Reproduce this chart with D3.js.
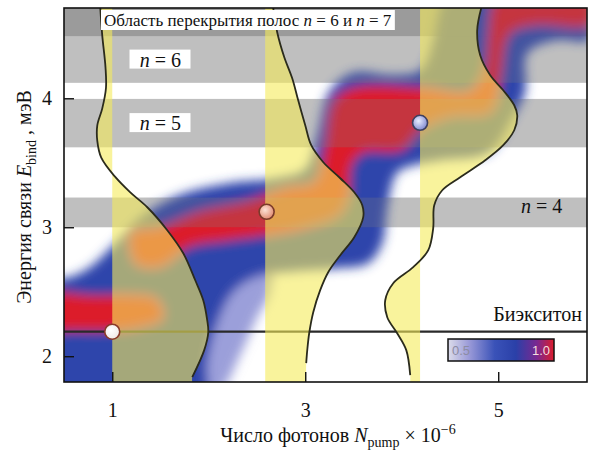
<!DOCTYPE html>
<html>
<head>
<meta charset="utf-8">
<script src="https://cdn.jsdelivr.net/npm/d3@7"></script>
<style>
  body { margin: 0; background: #fff; }
  #wrap { position: relative; width: 590px; height: 454px; }
  #wrap svg { position: absolute; left: 0; top: 0; }
</style>
</head>
<body>
<div id="wrap">
  <svg id="mapLayer" width="590" height="454"></svg>
  <svg id="chart" width="590" height="454"></svg>
</div>
<script>
// ---------- data ----------
const xDomain = [0.5, 5.92];          // N_pump × 10^-6
const yDomain = [1.8, 4.7];           // E_bind, meV
const xTicks = [1, 3, 5];
const yTicks = [2, 3, 4];

// Rydberg bands (energy ranges, meV); the last one is where n = 6 and n = 7 overlap
const bandName = ["4", "5", "6", "6+7"];
const bandLo = [3.0, 3.62, 4.12, 4.48];
const bandHi = [3.23, 3.995, 4.48, 4.9];

const biexcitonEnergy = 2.19;

// colour map of the normalised signal
const colorStops = [0.5, 0.6, 0.72, 0.82, 0.92, 1.0];
const colorRange = ["#dcdcea", "#9a9ad8", "#3a52b8", "#2a40a8", "#7a2890", "#dc1c2c"];

// signal map: outline of the broad (≈0.8) region, the weak tail (≈0.6) and the maxima (1.0)
const heatTail = [[1.9,1.65],[2.12,1.72],[2.32,2.0],[2.5,2.3],[2.64,2.5],[2.64,2.78],[2.0,2.75]];
const heatBlue = [
  [0.3,2.6],[0.5,2.6],[0.75,2.68],[1.0,2.85],[1.3,3.08],[1.7,3.25],[2.2,3.34],[2.7,3.38],
  [3.0,3.45],[3.12,3.7],[3.25,4.05],[3.5,4.2],[3.9,4.18],[4.2,4.22],[4.33,4.45],[4.4,4.7],[4.45,4.76],
  [5.2,4.76],[5.94,4.76],[5.94,4.6],[5.94,4.45],[5.6,4.45],[5.3,4.35],[5.28,4.05],[5.15,3.85],[4.9,3.58],[4.4,3.52],
  [4.12,3.48],[3.95,3.42],[3.85,3.15],[3.8,2.88],[3.65,2.72],[3.3,2.68],[2.9,2.66],[2.5,2.62],
  [2.25,2.5],[2.08,2.25],[1.98,1.95],[1.95,1.65],[1.1,1.65],[0.3,1.65],[0.3,2.1]
];
const heatRedLow = [[0.3,2.21],[0.3,2.47],[0.8,2.47],[1.2,2.47],[1.45,2.44],[1.52,2.3],[1.3,2.23],[1.0,2.2],[0.6,2.2]];
const heatRedMain = [
  [1.2,2.95],[1.5,3.0],[1.9,3.12],[2.4,3.2],[2.8,3.3],[3.1,3.35],[3.2,3.6],[3.3,3.98],[3.5,4.08],
  [4.2,4.08],[4.7,4.05],[4.85,4.2],[4.9,4.5],[4.93,4.7],[4.98,4.76],[5.5,4.76],[5.94,4.76],[5.94,4.57],
  [5.4,4.57],[5.12,4.5],[5.02,4.15],[4.92,3.9],[4.5,3.86],[4.2,3.76],[4.0,3.6],[3.6,3.58],[3.48,3.48],
  [3.45,3.25],[3.35,3.1],[3.0,3.0],[2.6,2.94],[2.2,2.9],[1.8,2.85],[1.5,2.7],[1.25,2.72]
];

// emission spectra drawn sideways: [position, energy]
const spectrumBase = [1.0, 2.585, 4.19];
const spectrum1 = [[0.876,4.70],[0.896,4.49],[0.93,4.24],[0.935,4.08],[0.896,3.92],[0.845,3.79],[0.845,3.67],
  [0.886,3.54],[1.031,3.39],[1.187,3.27],[1.363,3.155],[1.570,2.977],[1.736,2.798],[1.860,2.589],[1.943,2.434],
  [1.984,2.279],[1.995,2.186],[1.953,2.047],[1.829,1.837]];
const spectrum2 = [[2.668,4.70],[2.710,4.51],[2.782,4.32],[2.865,4.155],[2.927,3.984],[3.000,3.791],[3.062,3.636],
  [3.187,3.504],[3.363,3.380],[3.508,3.271],[3.591,3.171],[3.601,3.078],[3.508,2.922],[3.363,2.783],[3.238,2.651],
  [3.155,2.512],[3.083,2.341],[3.041,2.178],[3.021,2.047],[3.010,1.946]];
const spectrum3 = [[4.824,4.70],[4.782,4.527],[4.813,4.333],[4.917,4.178],[5.052,4.062],[5.166,3.946],[5.197,3.868],
  [5.166,3.752],[5.052,3.636],[4.865,3.519],[4.606,3.388],[4.420,3.287],[4.337,3.171],[4.326,2.992],[4.275,2.822],
  [4.119,2.690],[3.912,2.566],[3.829,2.434],[3.850,2.302],[3.953,2.178],[4.047,2.047],[4.088,1.853]];

// selected points (N_pump, E_bind)
const markerX = [1.0, 2.6, 4.19];
const markerY = [2.19, 3.12, 3.81];

// ---------- layout ----------
const serif = "'Liberation Serif', 'Times New Roman', serif";
const sans = "'Liberation Sans', Arial, sans-serif";
const W = 590, H = 454;
const plot = { left: 64, right: 587, top: 8, bottom: 382 };
const x = d3.scaleLinear().domain(xDomain).range([plot.left, plot.right]);
const y = d3.scaleLinear().domain(yDomain).range([plot.bottom, plot.top]);
const color = d3.scaleLinear().domain(colorStops).range(colorRange).interpolate(d3.interpolateRgb);

function addPlotClip(defs, id) {
  defs.append("clipPath").attr("id", id).append("rect")
    .attr("x", plot.left).attr("y", plot.top)
    .attr("width", plot.right - plot.left).attr("height", plot.bottom - plot.top);
}

// ---------- bottom layer: band underlay + signal map ----------
const base = d3.select("#mapLayer");
const baseDefs = base.append("defs");
addPlotClip(baseDefs, "mapClip");
const soft = baseDefs.append("filter").attr("id", "soft").attr("filterUnits", "userSpaceOnUse")
  .attr("x", 0).attr("y", 0).attr("width", W).attr("height", H);
soft.append("feGaussianBlur").attr("stdDeviation", 5.5);

const bandUnderGrey = [213, 213, 213, 165];
const under = base.append("g").attr("clip-path", "url(#mapClip)");
bandName.forEach((n, i) => {
  const g = bandUnderGrey[i];
  under.append("rect")
    .attr("x", plot.left).attr("width", plot.right - plot.left)
    .attr("y", y(bandHi[i])).attr("height", y(bandLo[i]) - y(bandHi[i]))
    .attr("fill", `rgb(${g},${g},${g})`);
});

const poly = d3.line().x(d => x(d[0])).y(d => y(d[1])).curve(d3.curveCatmullRomClosed.alpha(0.5));
const heat = base.append("g").attr("clip-path", "url(#mapClip)")
  .append("g").attr("filter", "url(#soft)");
heat.append("path").attr("d", poly(heatTail)).attr("fill", color(0.62)).attr("opacity", 0.85);
heat.append("path").attr("d", poly(heatBlue)).attr("fill", color(0.8));
heat.append("path").attr("d", poly(heatRedLow)).attr("fill", color(1.0));
heat.append("path").attr("d", poly(heatRedMain)).attr("fill", color(1.0));

// ---------- top layer ----------
const svg = d3.select("#chart");
const defs = svg.append("defs");
addPlotClip(defs, "plotClip");

// light veil of the bands over the map
const veilG = svg.append("g").attr("clip-path", "url(#plotClip)");
bandName.forEach((n, i) => {
  veilG.append("rect")
    .attr("x", plot.left).attr("width", plot.right - plot.left)
    .attr("y", y(bandHi[i])).attr("height", y(bandLo[i]) - y(bandHi[i]))
    .attr("fill", "rgb(128,128,128)").attr("fill-opacity", 0.25);
});

// biexciton level
svg.append("line")
  .attr("x1", plot.left).attr("x2", plot.right)
  .attr("y1", y(biexcitonEnergy)).attr("y2", y(biexcitonEnergy))
  .attr("stroke", "#2a2a2a").attr("stroke-width", 2.2);

// ---------- spectra ----------
const spectra = [spectrum1, spectrum2, spectrum3];
const smooth = d3.curveCatmullRom.alpha(0.5);
const specG = svg.append("g").attr("clip-path", "url(#plotClip)");
spectra.forEach((s, i) => {
  const b = spectrumBase[i];
  const filled = s.concat([[s[s.length - 1][0], yDomain[0]]]);
  specG.append("path")
    .attr("d", d3.area().curve(smooth).y(d => y(d[1])).x0(x(b)).x1(d => x(d[0]))(filled))
    .attr("fill", "rgb(245,235,90)").attr("fill-opacity", 0.6);
});
spectra.forEach(s => {
  specG.append("path")
    .attr("d", d3.line().curve(smooth).x(d => x(d[0])).y(d => y(d[1]))(s))
    .attr("fill", "none").attr("stroke", "#2b2b1c").attr("stroke-width", 1.8);
});

// ---------- markers ----------
const markerFill = [["#ffffff", "#efe9e6"], ["#fde2d6", "#e08a70"], ["#e8ecff", "#7f88d0"]];
const markerStroke = ["#8a3a28", "#7a3a2a", "#3e4060"];
markerX.forEach((mx, i) => {
  const g = defs.append("radialGradient").attr("id", "mk" + i).attr("cx", "40%").attr("cy", "38%").attr("r", "65%");
  g.append("stop").attr("offset", "0%").attr("stop-color", markerFill[i][0]);
  g.append("stop").attr("offset", "100%").attr("stop-color", markerFill[i][1]);
  svg.append("circle")
    .attr("cx", x(mx)).attr("cy", y(markerY[i])).attr("r", 7.5)
    .attr("fill", `url(#mk${i})`).attr("stroke", markerStroke[i]).attr("stroke-width", 1.6);
});

// ---------- labels ----------
function richText(t, parts) {
  parts.forEach(p => t.append("tspan").attr("font-style", p[1] ? "italic" : null).text(p[0]));
}

// overlap label
const ov = svg.append("g");
const ovText = ov.append("text").attr("x", 104).attr("y", 26)
  .attr("font-family", serif).attr("font-size", 17).attr("fill", "#111");
richText(ovText, [["Область перекрытия полос ", 0], ["n", 1], [" = 6 и ", 0], ["n", 1], [" = 7", 0]]);
const ob = ovText.node().getBBox();
ov.insert("rect", "text").attr("x", ob.x - 3).attr("y", 10).attr("width", ob.width + 6).attr("height", 20).attr("fill", "#fff");

// band labels
const labelBand = [0, 1, 2];
const labelX = [5.45, 1.5, 1.5];
const labelBoxed = [false, true, true];
labelBand.forEach((b, i) => {
  const cy = y((bandLo[b] + bandHi[b]) / 2);
  const g = svg.append("g");
  const t = g.append("text").attr("x", x(labelX[i])).attr("y", cy + 7 - (i === 0 ? 6 : 0))
    .attr("text-anchor", "middle").attr("font-family", serif).attr("font-size", 20).attr("fill", "#111");
  richText(t, [["n", 1], [" = " + bandName[b], 0]]);
  if (labelBoxed[i]) {
    g.insert("rect", "text").attr("x", x(labelX[i]) - 31).attr("y", cy - 10)
      .attr("width", 61).attr("height", 19).attr("fill", "#fff");
  }
});

svg.append("text").attr("x", 582).attr("y", y(biexcitonEnergy) - 11)
  .attr("text-anchor", "end").attr("font-family", serif).attr("font-size", 20).attr("fill", "#111")
  .text("Биэкситон");

// ---------- frame & axes ----------
svg.append("rect").attr("x", plot.left).attr("y", plot.top)
  .attr("width", plot.right - plot.left).attr("height", plot.bottom - plot.top)
  .attr("fill", "none").attr("stroke", "#111").attr("stroke-width", 1.6);

const xAxis = svg.append("g").attr("transform", `translate(0,${plot.bottom})`)
  .call(d3.axisBottom(x).tickValues(xTicks).tickFormat(d3.format("d")).tickSizeInner(-10).tickSizeOuter(0).tickPadding(21));
const yAxis = svg.append("g").attr("transform", `translate(${plot.left},0)`)
  .call(d3.axisLeft(y).tickValues(yTicks).tickFormat(d3.format("d")).tickSizeInner(-10).tickSizeOuter(0).tickPadding(12));
[xAxis, yAxis].forEach(a => {
  a.attr("font-family", serif).attr("font-size", 20);
  a.select(".domain").remove();
  a.selectAll(".tick line").attr("stroke", "#111").attr("stroke-width", 1.4);
  a.selectAll(".tick text").attr("fill", "#111");
});

// axis titles
const xt = svg.append("text").attr("x", 338).attr("y", 442).attr("text-anchor", "middle")
  .attr("font-family", serif).attr("font-size", 20).attr("fill", "#111");
xt.append("tspan").text("Число фотонов ");
xt.append("tspan").attr("font-style", "italic").text("N");
xt.append("tspan").attr("font-size", 14).attr("dy", 5).text("pump");
xt.append("tspan").attr("dy", -5).text(" × 10");
xt.append("tspan").attr("font-size", 14).attr("dy", -8).text("−6");

const yt = svg.append("text").attr("transform", "translate(31,197) rotate(-90)").attr("text-anchor", "middle")
  .attr("font-family", serif).attr("font-size", 20).attr("fill", "#111");
yt.append("tspan").text("Энергия связи ");
yt.append("tspan").attr("font-style", "italic").text("E");
yt.append("tspan").attr("font-size", 14).attr("dy", 5).text("bind");
yt.append("tspan").attr("dy", -5).text(" , мэВ");

// ---------- colour bar ----------
const cb = { x: 448, y: 339, w: 106, h: 22 };
const lg = defs.append("linearGradient").attr("id", "cbar");
colorStops.forEach(v => lg.append("stop")
  .attr("offset", ((v - 0.5) / 0.5 * 100) + "%").attr("stop-color", color(v)));
svg.append("rect").attr("x", cb.x).attr("y", cb.y).attr("width", cb.w).attr("height", cb.h)
  .attr("fill", "url(#cbar)").attr("stroke", "#111").attr("stroke-width", 1.5);
svg.append("text").attr("x", cb.x + 4).attr("y", cb.y + 16).attr("font-size", 13)
  .attr("font-family", sans).attr("fill", "#8c8ca4").text("0.5");
svg.append("text").attr("x", cb.x + cb.w - 4).attr("y", cb.y + 16).attr("text-anchor", "end").attr("font-size", 13)
  .attr("font-family", sans).attr("fill", "#f6dede").text("1.0");
</script>
</body>
</html>
